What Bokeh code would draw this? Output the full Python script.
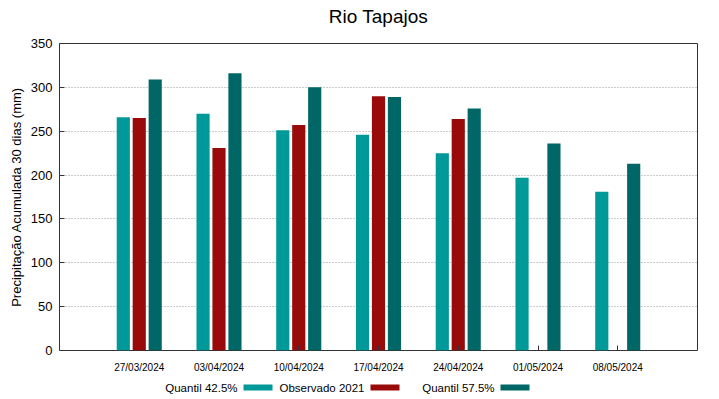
from bokeh.plotting import figure
from bokeh.models import Range1d, FixedTicker, ColumnDataSource
from bokeh.layouts import column
from bokeh.transform import dodge
from bokeh.core.properties import value
from bokeh.embed import file_html
from bokeh.resources import INLINE

title_text = "Rio Tapajos"
dates = ["27/03/2024", "03/04/2024", "10/04/2024", "17/04/2024", "24/04/2024", "01/05/2024", "08/05/2024"]
q425 = [266, 270, 251, 246, 225, 197, 181]
obs2021 = [265, 231, 257, 290, 264, float("nan"), float("nan")]
q575 = [309, 316, 300, 289, 276, 236, 213]
series_names = ["Quantil 42.5%", "Observado 2021", "Quantil 57.5%"]
colors = ["#009999", "#990b0b", "#006666"]

FONT = "Liberation Sans"
pos = list(range(1, len(dates) + 1))
src = ColumnDataSource(dict(x=pos, q425=q425, obs=obs2021, q575=q575))


def blank(height):
    f = figure(width=719, height=height, output_backend="svg", toolbar_location=None,
               x_range=Range1d(59, 697), y_range=Range1d(height, 0),
               min_border=0, min_border_left=0, min_border_right=0,
               min_border_top=0, min_border_bottom=0)
    f.axis.visible = False
    f.grid.visible = False
    f.outline_line_color = None
    return f


# title strip
top = blank(30)
top.text(x=[378], y=[16], text=[title_text], text_align="center", text_baseline="middle",
         text_font=value(FONT), text_font_size="19px", text_color="black")

p = figure(frame_width=638, frame_height=307, output_backend="svg", toolbar_location=None,
           x_range=Range1d(0, len(dates) + 1), y_range=Range1d(0, 350),
           min_border_left=59, min_border_right=22, min_border_top=13, min_border_bottom=26)
p.outline_line_color = "#333333"
p.outline_line_width = 1

for i, (col, off) in enumerate([("q425", -0.2), ("obs", 0.0), ("q575", 0.2)]):
    p.vbar(x=dodge("x", off), top=col, width=0.165, bottom=0, source=src,
           fill_color=colors[i], line_color=None)

p.xgrid.visible = False
p.ygrid.grid_line_color = "#999999"
p.ygrid.grid_line_dash = "1 2"
p.ygrid.grid_line_width = 1

p.yaxis.ticker = FixedTicker(ticks=[0, 50, 100, 150, 200, 250, 300, 350])
p.xaxis.ticker = FixedTicker(ticks=pos)
p.xaxis.major_label_overrides = {k: d for k, d in zip(pos, dates)}
for ax in (p.xaxis, p.yaxis):
    ax.axis_line_color = None
    ax.major_tick_in = 5
    ax.major_tick_out = 0
    ax.minor_tick_line_color = None
    ax.major_tick_line_color = "#333333"
    ax.major_label_text_font = FONT
    ax.major_label_text_color = "black"
p.yaxis.major_label_text_font_size = "13px"
p.yaxis.major_label_standoff = 7
p.xaxis.major_label_text_font_size = "10px"
p.xaxis.major_label_standoff = 11
p.yaxis.axis_label = "Precipitação Acumulada 30 dias (mm)"
p.yaxis.axis_label_text_font = FONT
p.yaxis.axis_label_text_font_size = "13px"
p.yaxis.axis_label_text_font_style = "normal"
p.yaxis.axis_label_text_color = "black"
p.yaxis.axis_label_standoff = 4

# legend strip below the chart: text followed by a colour swatch
leg = blank(22)
text_right = [237, 364, 494]
leg_src = ColumnDataSource(dict(name=series_names, color=colors, tx=text_right,
                                sl=[t + 6 for t in text_right], sr=[t + 35 for t in text_right]))
leg.text(x="tx", y=11, text="name", source=leg_src, text_align="right", text_baseline="middle",
         text_font=value(FONT), text_font_size="11.5px", text_color="black")
leg.quad(left="sl", right="sr", bottom=14, top=8, source=leg_src, fill_color="color", line_color=None)

open("out.html", "w").write(file_html(column(top, p, leg, spacing=0), INLINE))
